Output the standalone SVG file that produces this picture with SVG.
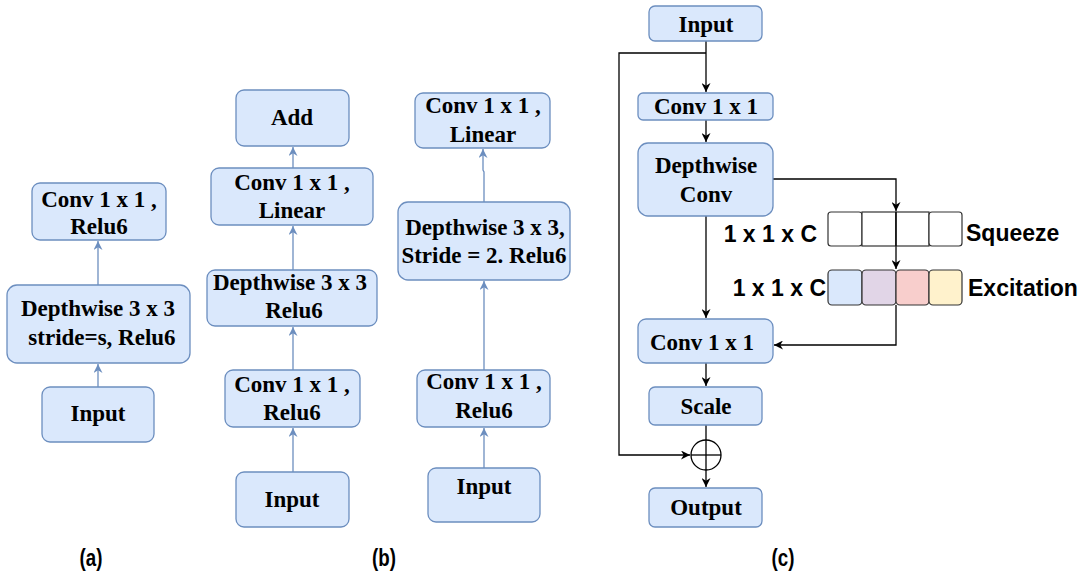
<svg xmlns="http://www.w3.org/2000/svg" width="1084" height="574" viewBox="0 0 1084 574">
<style>
.box{fill:#dae8fc;stroke:#6c8ebf;stroke-width:1.3}
.t{font-family:"Liberation Serif","Times New Roman",serif;font-weight:bold;font-size:23px;fill:#000;text-anchor:middle}
.s{font-family:"Liberation Sans",Arial,sans-serif;font-weight:bold;font-size:23px;fill:#000}
.lab{font-family:"Liberation Sans",Arial,sans-serif;font-weight:bold;font-size:24px;fill:#000;text-anchor:middle}
.bl{stroke:#6c8ebf;stroke-width:1.3;fill:none;marker-end:url(#ab)}
.k{stroke:#000;stroke-width:1.3;fill:none}
.ka{stroke:#000;stroke-width:1.3;fill:none;marker-end:url(#ak)}
.cell{stroke:#333;stroke-width:1.2}
</style>
<defs>
<marker id="ab" viewBox="0 0 10 10" refX="10" refY="5" markerUnits="userSpaceOnUse" markerWidth="9" markerHeight="9" orient="auto"><path d="M0,0 L10,5 L0,10 L3,5 z" fill="#6c8ebf"/></marker>
<marker id="ak" viewBox="0 0 10 10" refX="10" refY="5" markerUnits="userSpaceOnUse" markerWidth="9" markerHeight="9" orient="auto"><path d="M0,0 L10,5 L0,10 L3,5 z" fill="#000"/></marker>
</defs>

<g id="connectors">
<!-- panel a -->
<line class="bl" x1="98" y1="285" x2="98" y2="241"/>
<line class="bl" x1="98" y1="387" x2="98" y2="364"/>
<!-- panel b -->
<line class="bl" x1="293" y1="472" x2="293" y2="428"/>
<line class="bl" x1="293" y1="370" x2="293" y2="327"/>
<line class="bl" x1="293" y1="270" x2="293" y2="226"/>
<line class="bl" x1="293" y1="168" x2="293" y2="147"/>
<!-- panel b right -->
<line class="bl" x1="484" y1="468" x2="484" y2="428"/>
<line class="bl" x1="484" y1="370" x2="484" y2="281"/>
<polyline class="bl" points="484,202 484,172 483,170 483,149"/>
<!-- panel c -->
<line class="ka" x1="706" y1="41" x2="706" y2="92"/>
<polyline class="ka" points="706,53 619,53 619,455 690,455"/>
<line class="ka" x1="706" y1="120" x2="706" y2="142"/>
<line class="ka" x1="706" y1="216" x2="706" y2="318"/>
<polyline class="ka" points="773,179 896,179 896,211"/>
<line class="ka" x1="896" y1="212" x2="896" y2="269"/>
<polyline class="ka" points="896,305 896,345 774,345"/>
<line class="ka" x1="706" y1="363" x2="706" y2="386"/>
<line class="ka" x1="706" y1="425" x2="706" y2="487"/>
<circle class="k" cx="706" cy="455" r="15"/>
<line class="k" x1="691" y1="455" x2="721" y2="455"/>
</g>

<!-- panel a -->
<g id="a_conv"><rect class="box" x="32" y="183" width="134" height="57" rx="8"/><text class="t" x="99" y="207">Conv 1 x 1 ,</text><text class="t" x="99" y="234">Relu6</text></g>
<g id="a_dw"><rect class="box" x="7" y="285" width="183" height="78" rx="10"/><text class="t" x="98" y="316">Depthwise 3 x 3</text><text class="t" x="102" y="345">stride=s, Relu6</text></g>
<g id="a_input"><rect class="box" x="42" y="387" width="112" height="55" rx="8"/><text class="t" x="98" y="421">Input</text></g>

<!-- panel b -->
<g id="b_add"><rect class="box" x="236" y="90" width="113" height="56" rx="8"/><text class="t" x="292" y="125">Add</text></g>
<g id="b_conv2"><rect class="box" x="211" y="168" width="162" height="57" rx="8"/><text class="t" x="292" y="190">Conv 1 x 1 ,</text><text class="t" x="292" y="218">Linear</text></g>
<g id="b_dw"><rect class="box" x="207" y="270" width="170" height="56" rx="8"/><text class="t" x="290" y="290">Depthwise 3 x 3</text><text class="t" x="294" y="318">Relu6</text></g>
<g id="b_conv1"><rect class="box" x="225" y="370" width="135" height="57" rx="8"/><text class="t" x="292" y="392">Conv 1 x 1 ,</text><text class="t" x="292" y="420">Relu6</text></g>
<g id="b_input"><rect class="box" x="236" y="472" width="113" height="55" rx="8"/><text class="t" x="292" y="507">Input</text></g>

<!-- panel b right -->
<g id="b2_conv2"><rect class="box" x="415" y="93" width="135" height="55" rx="8"/><text class="t" x="483" y="113">Conv 1 x 1 ,</text><text class="t" x="483" y="142">Linear</text></g>
<g id="b2_dw"><rect class="box" x="398" y="202" width="172" height="78" rx="10"/><text class="t" x="485" y="235">Depthwise 3 x 3,</text><text class="t" x="484" y="263">Stride = 2. Relu6</text></g>
<g id="b2_conv1"><rect class="box" x="417" y="370" width="133" height="57" rx="8"/><text class="t" x="484" y="389">Conv 1 x 1 ,</text><text class="t" x="484" y="418">Relu6</text></g>
<g id="b2_input"><rect class="box" x="428" y="468" width="112" height="54" rx="8"/><text class="t" x="484" y="494">Input</text></g>

<!-- panel c -->
<g id="c_input"><rect class="box" x="649" y="6" width="113" height="35" rx="6"/><text class="t" x="706" y="32">Input</text></g>
<g id="c_conv1"><rect class="box" x="638" y="93" width="135" height="27" rx="5"/><text class="t" x="706" y="114">Conv 1 x 1</text></g>
<g id="c_dw"><rect class="box" x="638" y="143" width="135" height="73" rx="10"/><text class="t" x="706" y="173">Depthwise</text><text class="t" x="706" y="202">Conv</text></g>
<g id="c_conv2"><rect class="box" x="638" y="319" width="135" height="44" rx="8"/><text class="t" x="702" y="350">Conv 1 x 1</text></g>
<g id="c_scale"><rect class="box" x="649" y="387" width="113" height="38" rx="6"/><text class="t" x="706" y="414">Scale</text></g>
<g id="c_output"><rect class="box" x="649" y="488" width="113" height="39" rx="6"/><text class="t" x="706" y="515">Output</text></g>

<g id="squeeze">
<rect class="cell" x="828" y="212" width="34" height="34" rx="3" fill="#fff"/>
<rect class="cell" x="862" y="212" width="34" height="34" rx="0" fill="#fff"/>
<rect class="cell" x="896" y="212" width="33" height="34" rx="0" fill="#fff"/>
<rect class="cell" x="929" y="212" width="33" height="34" rx="3" fill="#fff"/>
<line class="k" x1="896" y1="212" x2="896" y2="246"/>
<text class="s" x="817" y="242" text-anchor="end">1 x 1 x C</text>
<text class="s" x="966" y="241">Squeeze</text>
</g>
<g id="excitation">
<rect class="cell" x="828" y="270" width="34" height="35" rx="4" fill="#dae8fc"/>
<rect class="cell" x="862" y="270" width="34" height="35" rx="4" fill="#e1d5e7"/>
<rect class="cell" x="896" y="270" width="33" height="35" rx="4" fill="#f8cecc"/>
<rect class="cell" x="929" y="270" width="33" height="35" rx="4" fill="#fff2cc"/>
<text class="s" x="826" y="296" text-anchor="end">1 x 1 x C</text>
<text class="s" x="968" y="296">Excitation</text>
</g>

<g id="labels">
<text class="lab" transform="translate(91,566) scale(0.78,1)" x="0" y="0">(a)</text>
<text class="lab" transform="translate(384,566) scale(0.78,1)" x="0" y="0">(b)</text>
<text class="lab" transform="translate(783,566) scale(0.78,1)" x="0" y="0">(c)</text>
</g>
</svg>
